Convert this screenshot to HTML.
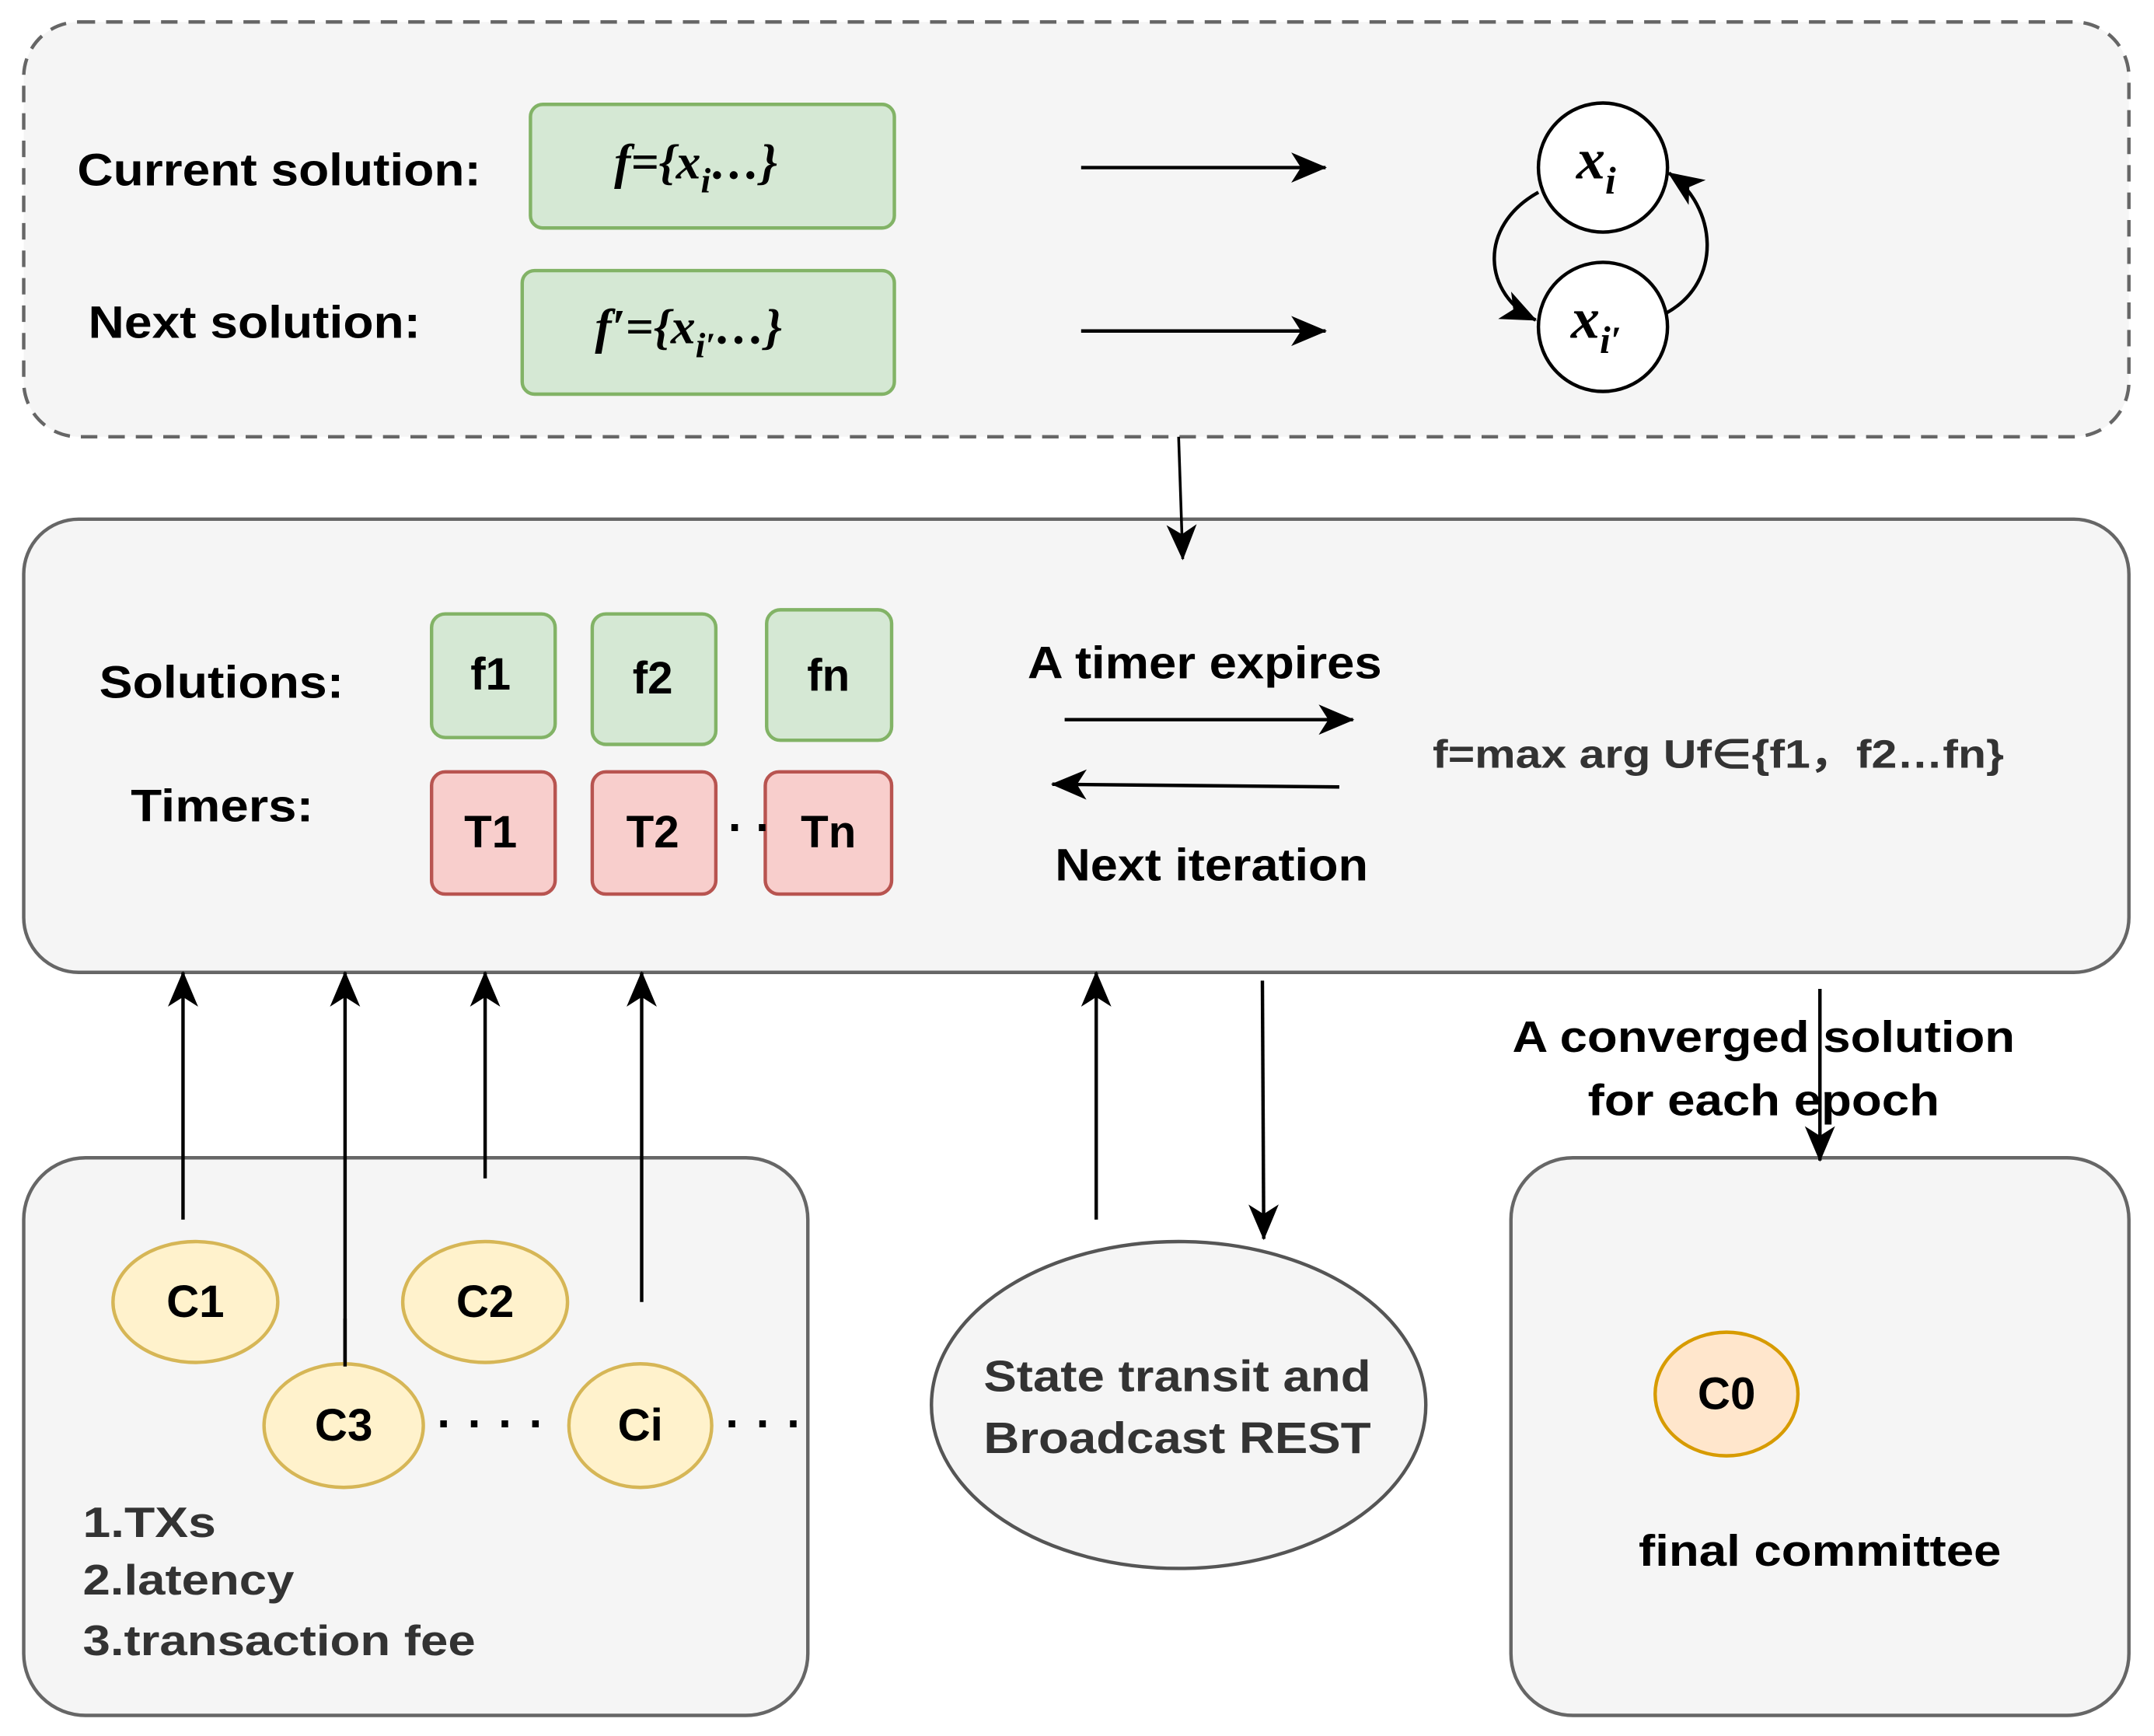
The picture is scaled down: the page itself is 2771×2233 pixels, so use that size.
<!DOCTYPE html>
<html><head><meta charset="utf-8"><style>html,body{margin:0;padding:0;background:#fff}svg{display:block}</style></head>
<body>
<svg width="2771" height="2233" viewBox="0 0 1568 1264" xmlns="http://www.w3.org/2000/svg" font-family="Liberation Sans, Arial, sans-serif" font-weight="bold">
<defs>
<marker id="a" viewBox="0 0 28 24" refX="25" refY="12" markerWidth="28" markerHeight="24" markerUnits="userSpaceOnUse" orient="auto">
<path d="M0,1 L26,12 L0,23 L7,12 Z" fill="#000"/></marker>
</defs>
<rect x="17" y="16" width="1533" height="302" rx="40" fill="#f5f5f5" stroke="#666" stroke-width="2.5" stroke-dasharray="12,8"/>
<rect x="386" y="76" width="265" height="90" rx="9" fill="#d5e8d4" stroke="#82b366" stroke-width="2.5"/>
<rect x="380" y="197" width="271" height="90" rx="9" fill="#d5e8d4" stroke="#82b366" stroke-width="2.5"/>
<text x="56" y="135" font-size="33" textLength="294" lengthAdjust="spacingAndGlyphs">Current solution:</text>
<text x="64" y="246" font-size="33" textLength="242" lengthAdjust="spacingAndGlyphs">Next solution:</text>
<text x="447" y="130" font-size="36" font-family="Liberation Serif, serif" font-style="italic">f={x<tspan font-size="26" dy="10">i</tspan><tspan dy="-10">…}</tspan></text>
<text x="433" y="250" font-size="36" font-family="Liberation Serif, serif" font-style="italic">f′={x<tspan font-size="26" dy="10">i′</tspan><tspan dy="-10">…}</tspan></text>
<line x1="787" y1="122" x2="965" y2="122" stroke="#000" stroke-width="2.5" marker-end="url(#a)"/>
<line x1="787" y1="241" x2="965" y2="241" stroke="#000" stroke-width="2.5" marker-end="url(#a)"/>
<circle cx="1167" cy="122" r="47" fill="#fff" stroke="#000" stroke-width="2.5"/>
<circle cx="1167" cy="238" r="47" fill="#fff" stroke="#000" stroke-width="2.5"/>
<text x="1162" y="130" font-size="42" font-family="Liberation Serif, serif" font-style="italic" text-anchor="middle">x<tspan font-size="28" dy="11">i</tspan></text>
<text x="1162" y="246" font-size="42" font-family="Liberation Serif, serif" font-style="italic" text-anchor="middle">x<tspan font-size="28" dy="11">i′</tspan></text>
<path d="M1120,140 C1075,165 1080,215 1118,233" fill="none" stroke="#000" stroke-width="2.5" marker-end="url(#a)"/>
<path d="M1213,228 C1255,205 1250,150 1215,126" fill="none" stroke="#000" stroke-width="2.5" marker-end="url(#a)"/>
<rect x="17" y="378" width="1533" height="330" rx="40" fill="#f5f5f5" stroke="#666" stroke-width="2.5"/>
<line x1="858" y1="318" x2="861" y2="407" stroke="#000" stroke-width="2" marker-end="url(#a)"/>
<text x="72" y="508" font-size="33" textLength="178" lengthAdjust="spacingAndGlyphs">Solutions:</text>
<text x="95" y="598" font-size="33" textLength="133" lengthAdjust="spacingAndGlyphs">Timers:</text>
<g stroke-width="2.5" font-size="33" text-anchor="middle">
<rect x="314" y="447" width="90" height="90" rx="10" fill="#d5e8d4" stroke="#82b366"/>
<rect x="431" y="447" width="90" height="95" rx="10" fill="#d5e8d4" stroke="#82b366"/>
<rect x="558" y="444" width="91" height="95" rx="10" fill="#d5e8d4" stroke="#82b366"/>
<rect x="314" y="562" width="90" height="89" rx="10" fill="#f8cecc" stroke="#b85450"/>
<rect x="431" y="562" width="90" height="89" rx="10" fill="#f8cecc" stroke="#b85450"/>
<rect x="557" y="562" width="92" height="89" rx="10" fill="#f8cecc" stroke="#b85450"/>
<text x="357" y="502">f1</text><text x="475" y="505">f2</text><text x="603" y="503">fn</text>
<text x="357" y="617">T1</text><text x="475" y="617">T2</text><text x="603" y="617">Tn</text>
</g>
<text x="530" y="614" font-size="34">·</text><text x="550" y="614" font-size="34">·</text>
<text x="748" y="494" font-size="33" textLength="258" lengthAdjust="spacingAndGlyphs">A timer expires</text>
<line x1="775" y1="524" x2="985" y2="524" stroke="#000" stroke-width="2.5" marker-end="url(#a)"/>
<line x1="975" y1="573" x2="766" y2="571" stroke="#000" stroke-width="2.5" marker-end="url(#a)"/>
<text x="768" y="641" font-size="33" textLength="228" lengthAdjust="spacingAndGlyphs">Next iteration</text>
<text x="1043" y="559" font-size="29" fill="#333" textLength="416" lengthAdjust="spacingAndGlyphs">f=max arg Uf∈{f1，f2…fn}</text>
<rect x="17" y="843" width="571" height="406" rx="45" fill="#f5f5f5" stroke="#666" stroke-width="2.5"/>
<rect x="1100" y="843" width="450" height="406" rx="45" fill="#f5f5f5" stroke="#666" stroke-width="2.5"/>
<g stroke="#000" stroke-width="2.5" marker-end="url(#a)">
<line x1="133" y1="888" x2="133" y2="708"/>
<line x1="251" y1="995" x2="251" y2="708"/>
<line x1="353" y1="858" x2="353" y2="708"/>
<line x1="467" y1="948" x2="467" y2="708"/>
<line x1="798" y1="888" x2="798" y2="708"/>
<line x1="919" y1="714" x2="920" y2="902"/>
<line x1="1325" y1="720" x2="1325" y2="845"/>
</g>
<g stroke="#d6b656" stroke-width="2.5" fill="#fff2cc">
<ellipse cx="142" cy="948" rx="60" ry="44"/>
<ellipse cx="353" cy="948" rx="60" ry="44"/>
<ellipse cx="250" cy="1038" rx="58" ry="45"/>
<ellipse cx="466" cy="1038" rx="52" ry="45"/>
</g>
<line x1="251" y1="995" x2="251" y2="960" stroke="#000" stroke-width="2.5"/>
<g font-size="33" text-anchor="middle">
<text x="142" y="959">C1</text><text x="353" y="959">C2</text><text x="250" y="1049">C3</text><text x="466" y="1049">Ci</text>
</g>
<text x="318" y="1048" font-size="34" letter-spacing="11">····</text>
<text x="528" y="1048" font-size="34" letter-spacing="11">···</text>
<g font-size="31" fill="#333">
<text x="60" y="1119" textLength="97" lengthAdjust="spacingAndGlyphs">1.TXs</text><text x="60" y="1161" textLength="154" lengthAdjust="spacingAndGlyphs">2.latency</text><text x="60" y="1205" textLength="286" lengthAdjust="spacingAndGlyphs">3.transaction fee</text>
</g>
<ellipse cx="858" cy="1023" rx="180" ry="119" fill="#f5f5f5" stroke="#555" stroke-width="2.5"/>
<text x="716" y="1013" font-size="32" fill="#333" textLength="282" lengthAdjust="spacingAndGlyphs">State transit and</text>
<text x="716" y="1058" font-size="32" fill="#333" textLength="282" lengthAdjust="spacingAndGlyphs">Broadcast REST</text>
<ellipse cx="1257" cy="1015" rx="52" ry="45" fill="#ffe6cc" stroke="#d79b00" stroke-width="2.5"/>
<text x="1257" y="1026" font-size="33" text-anchor="middle">C0</text>
<text x="1193" y="1140" font-size="32" textLength="264" lengthAdjust="spacingAndGlyphs">final committee</text>
<text x="1101" y="766" font-size="32" textLength="366" lengthAdjust="spacingAndGlyphs">A converged solution</text>
<text x="1156" y="812" font-size="32" textLength="256" lengthAdjust="spacingAndGlyphs">for each epoch</text>
</svg>
</body></html>
